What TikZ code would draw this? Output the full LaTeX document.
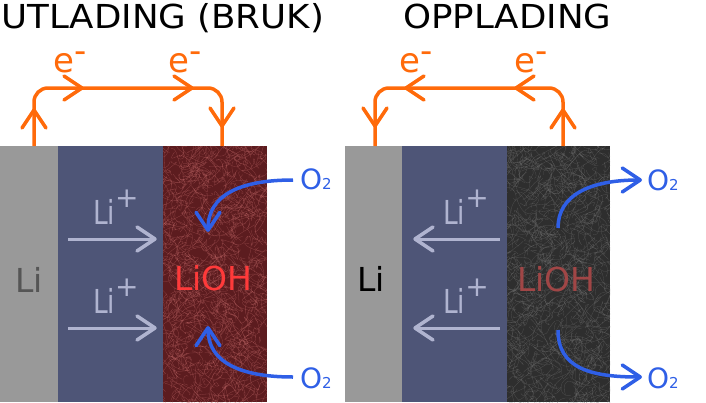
\documentclass[tikz,border=0pt]{standalone}
\usepackage{fontspec}
\setmainfont{DejaVu Sans}
\newfontfamily\wide[FakeStretch=1.08]{DejaVu Sans}
\newfontfamily\narrow[FakeStretch=0.8]{DejaVu Sans}
\usetikzlibrary{arrows.meta}
\definecolor{ora}{HTML}{FF6A0A}
\definecolor{blu}{HTML}{2F5FE6}
\definecolor{lav}{HTML}{B0B4D0}
\definecolor{grayel}{HTML}{999999}
\definecolor{elec}{HTML}{4E5577}
\definecolor{redbase}{HTML}{5C1C1F}
\definecolor{redfib}{HTML}{C46A6A}
\definecolor{darkbase}{HTML}{2E2E2E}
\definecolor{darkfib}{HTML}{767676}
\definecolor{liohl}{HTML}{FF3A3A}
\definecolor{liohr}{HTML}{A04646}
\definecolor{lidark}{HTML}{555555}
\tikzset{
  txt/.style={inner sep=0pt, anchor=base west},
  wire/.style={draw=ora, line width=3.5pt, rounded corners=14pt},
  vh/.pic={\draw[line width=3.5pt, line cap=round, line join=round] (-18,-12) -- (0,0) -- (-18,12);},
  liarrow/.style={draw=lav, line width=3pt},
  oarrow/.style={draw=blu, line width=3.5pt, -{Straight Barb[length=18pt,width=24pt,line cap=round,round]}},
  fibr/.style={draw=redfib, line width=0.3pt, opacity=0.45},
  fibd/.style={draw=darkfib, line width=0.3pt, opacity=0.45},
}
\newcommand{\Osub}{O{\fontsize{15}{15}\selectfont 2}}
\newcommand{\Liplus}{{\narrow Li}\raisebox{17pt}{{\fontsize{28}{28}\selectfont +}}}
\newcommand{\eminus}{e\raisebox{10pt}{-}}
\begin{document}
\begin{tikzpicture}[x=1pt,y=-1pt]
\useasboundingbox (0,0) rectangle (706,402);
% ---------- left cell ----------
\fill[grayel] (0,146) rectangle (58,402);
\fill[elec] (58,146) rectangle (163,402);
\begin{scope}
  \clip (163,146) rectangle (267,402);
  \fill[redbase] (163,146) rectangle (267,402);
  \pgfmathsetseed{7}
  \foreach \i in {1,...,900}{
    \pgfmathsetmacro\xa{158+114*rnd}
    \pgfmathsetmacro\ya{140+268*rnd}
    \draw[fibr] (\xa,\ya) .. controls +(14*rand,14*rand) and +(14*rand,14*rand) .. +(20*rand,20*rand);
  }
\end{scope}
% ---------- right cell ----------
\fill[grayel] (345,146) rectangle (402,402);
\fill[elec] (402,146) rectangle (507,402);
\begin{scope}
  \clip (507,146) rectangle (610,402);
  \fill[darkbase] (507,146) rectangle (610,402);
  \pgfmathsetseed{11}
  \foreach \i in {1,...,900}{
    \pgfmathsetmacro\xa{502+113*rnd}
    \pgfmathsetmacro\ya{140+268*rnd}
    \draw[fibd] (\xa,\ya) .. controls +(14*rand,14*rand) and +(14*rand,14*rand) .. +(20*rand,20*rand);
  }
\end{scope}
% ---------- titles ----------
\node[txt] (t1) at (1,28) {\fontsize{33}{33}\wide UTLADING (BRUK)};
\node[txt] (t2) at (403,28) {\fontsize{33}{33}\wide OPPLADING};
% ---------- wires ----------
\coordinate (wl1) at (34,146); \coordinate (wl2) at (222,146);
\coordinate (wr1) at (375,146); \coordinate (wr2) at (563,146);
\draw[wire] (wl1) -- (34,88) -- (222,88) -- (wl2);
\draw[wire] (wr1) -- (375,88) -- (563,88) -- (wr2);
\pic[color=ora, rotate=90] at (34,110) {vh};
\pic[color=ora] at (82,88) {vh};
\pic[color=ora] at (192,88) {vh};
\pic[color=ora, rotate=-90] at (222,126) {vh};
\pic[color=ora, rotate=-90] at (375,126) {vh};
\pic[color=ora, rotate=180] at (406,88) {vh};
\pic[color=ora, rotate=180] at (516,88) {vh};
\pic[color=ora, rotate=90] at (563,110) {vh};
\node[txt, text=ora] (e1) at (53,72) {\fontsize{34}{34}\selectfont\eminus};
\node[txt, text=ora] (e2) at (168,72) {\fontsize{34}{34}\selectfont\eminus};
\node[txt, text=ora] (e3) at (399,72) {\fontsize{34}{34}\selectfont\eminus};
\node[txt, text=ora] (e4) at (514,72) {\fontsize{34}{34}\selectfont\eminus};
% ---------- Li labels ----------
\node[txt, text=lidark] (li1) at (15,292) {\fontsize{33}{33}\selectfont Li};
\node[txt, text=black] (li2) at (357,291) {\fontsize{33}{33}\selectfont Li};
\node[txt, text=liohl] (lioh1) at (174,290) {\fontsize{33}{33}\selectfont LiOH};
\node[txt, text=liohr] (lioh2) at (517,291) {\fontsize{33}{33}\selectfont LiOH};
% ---------- Li+ arrows ----------
\node[txt, text=lav] (lp1) at (93,224) {\fontsize{33}{33}\selectfont\Liplus};
\node[txt, text=lav] (lp2) at (93,313) {\fontsize{33}{33}\selectfont\Liplus};
\node[txt, text=lav] (lp3) at (443,224) {\fontsize{33}{33}\selectfont\Liplus};
\node[txt, text=lav] (lp4) at (443,313) {\fontsize{33}{33}\selectfont\Liplus};
\coordinate (a1s) at (68,239); \coordinate (a1e) at (155,239);
\coordinate (a2s) at (68,328); \coordinate (a2e) at (155,328);
\coordinate (a3s) at (500,239); \coordinate (a3e) at (415,239);
\coordinate (a4s) at (500,328); \coordinate (a4e) at (415,328);
\draw[liarrow] (a1s) -- (a1e); \pic[color=lav] at (a1e) {vh};
\draw[liarrow] (a2s) -- (a2e); \pic[color=lav] at (a2e) {vh};
\draw[liarrow] (a3s) -- (a3e); \pic[color=lav, rotate=180] at (a3e) {vh};
\draw[liarrow] (a4s) -- (a4e); \pic[color=lav, rotate=180] at (a4e) {vh};
% ---------- O2 ----------
\node[txt, text=blu] (o1) at (300,189) {\fontsize{28}{28}\selectfont\Osub};
\node[txt, text=blu] (o2) at (300,388) {\fontsize{28}{28}\selectfont\Osub};
\node[txt, text=blu] (o3) at (647,190) {\fontsize{28}{28}\selectfont\Osub};
\node[txt, text=blu] (o4) at (647,388) {\fontsize{28}{28}\selectfont\Osub};
\draw[oarrow] (293,180) .. controls (240,180) and (208,195) .. (208,232);
\draw[oarrow] (293,377) .. controls (240,377) and (208,362) .. (208,326);
\draw[oarrow] (558,228) .. controls (558,195) and (590,180) .. (642,180);
\draw[oarrow] (558,330) .. controls (558,368) and (590,377) .. (642,377);
\end{tikzpicture}
\end{document}
